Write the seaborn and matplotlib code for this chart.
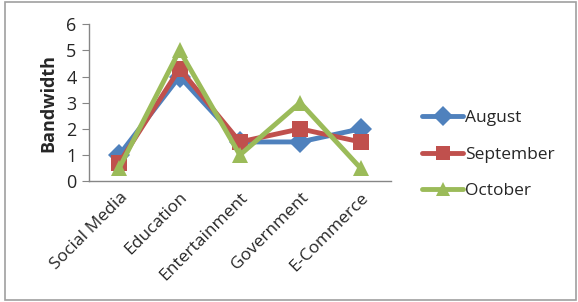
import pandas as pd
import seaborn as sns
import matplotlib.pyplot as plt
import matplotlib.transforms as mtransforms
from matplotlib.patches import Rectangle

categories = ["Social Media", "Education", "Entertainment", "Government", "E-Commerce"]
august = [1, 4, 1.5, 1.5, 2]
september = [0.7, 4.3, 1.5, 2, 1.5]
october = [0.5, 5, 1, 3, 0.5]
months = ["August", "September", "October"]

df = pd.DataFrame({"Category": categories * 3,
                   "Bandwidth": august + september + october,
                   "Month": [m for m in months for _ in categories]})
df["pos"] = [i for _ in months for i in range(len(categories))]

sns.set_style("white")
plt.rcParams['font.family'] = ['Open Sans', 'DejaVu Sans']

fig = plt.figure(figsize=(5.78, 3.02), dpi=100)
ax = fig.add_axes([0.154, 0.40, 0.522, 0.52])

palette = {"August": "#4F81BD", "September": "#C0504D", "October": "#9BBB59"}
markers = {"August": "D", "September": "s", "October": "^"}
sns.lineplot(data=df, x="pos", y="Bandwidth", hue="Month", style="Month",
             palette=palette, markers=markers, dashes=False, linewidth=3.5,
             markersize=11, markeredgewidth=0, ax=ax)

ax.set_xlim(-0.5, 4.5)
ax.set_ylim(0, 6)
ax.set_yticks(range(0, 7))
ax.set_xticks(range(len(categories)))
ax.set_xticklabels(categories, rotation=45, ha="right", rotation_mode="anchor", fontsize=12.5)
shift = mtransforms.ScaledTranslation(6 / 100, 0, fig.dpi_scale_trans)
for lbl in ax.get_xticklabels():
    lbl.set_transform(lbl.get_transform() + shift)
ax.set_xticks([x - 0.5 for x in range(len(categories) + 1)], minor=True)
ax.tick_params(axis="x", which="major", length=0, pad=6)
ax.tick_params(axis="x", which="minor", length=5, color="#868686", direction="out")
ax.tick_params(axis="y", length=5, color="#868686", direction="out", labelsize=13, left=True, pad=4)
ax.set_xlabel("")
ax.set_ylabel("Bandwidth", fontsize=13, fontweight="bold", labelpad=6)
for s in ["top", "right"]:
    ax.spines[s].set_visible(False)
for s in ["left", "bottom"]:
    ax.spines[s].set_color("#868686")
    ax.spines[s].set_linewidth(1)

handles, labels = ax.get_legend_handles_labels()
ax.legend(handles, labels, loc="center left", bbox_to_anchor=(1.08, 0.17),
          frameon=False, fontsize=12.5, handlelength=2.4, labelspacing=1.15,
          handletextpad=0.1, borderaxespad=0, markerscale=0.9)

fig.patches.append(Rectangle((0.009, 0.005), 0.988, 0.99, transform=fig.transFigure,
                             fill=False, edgecolor="#A0A0A0", linewidth=1.2))

fig.savefig("out.png", dpi=100)
